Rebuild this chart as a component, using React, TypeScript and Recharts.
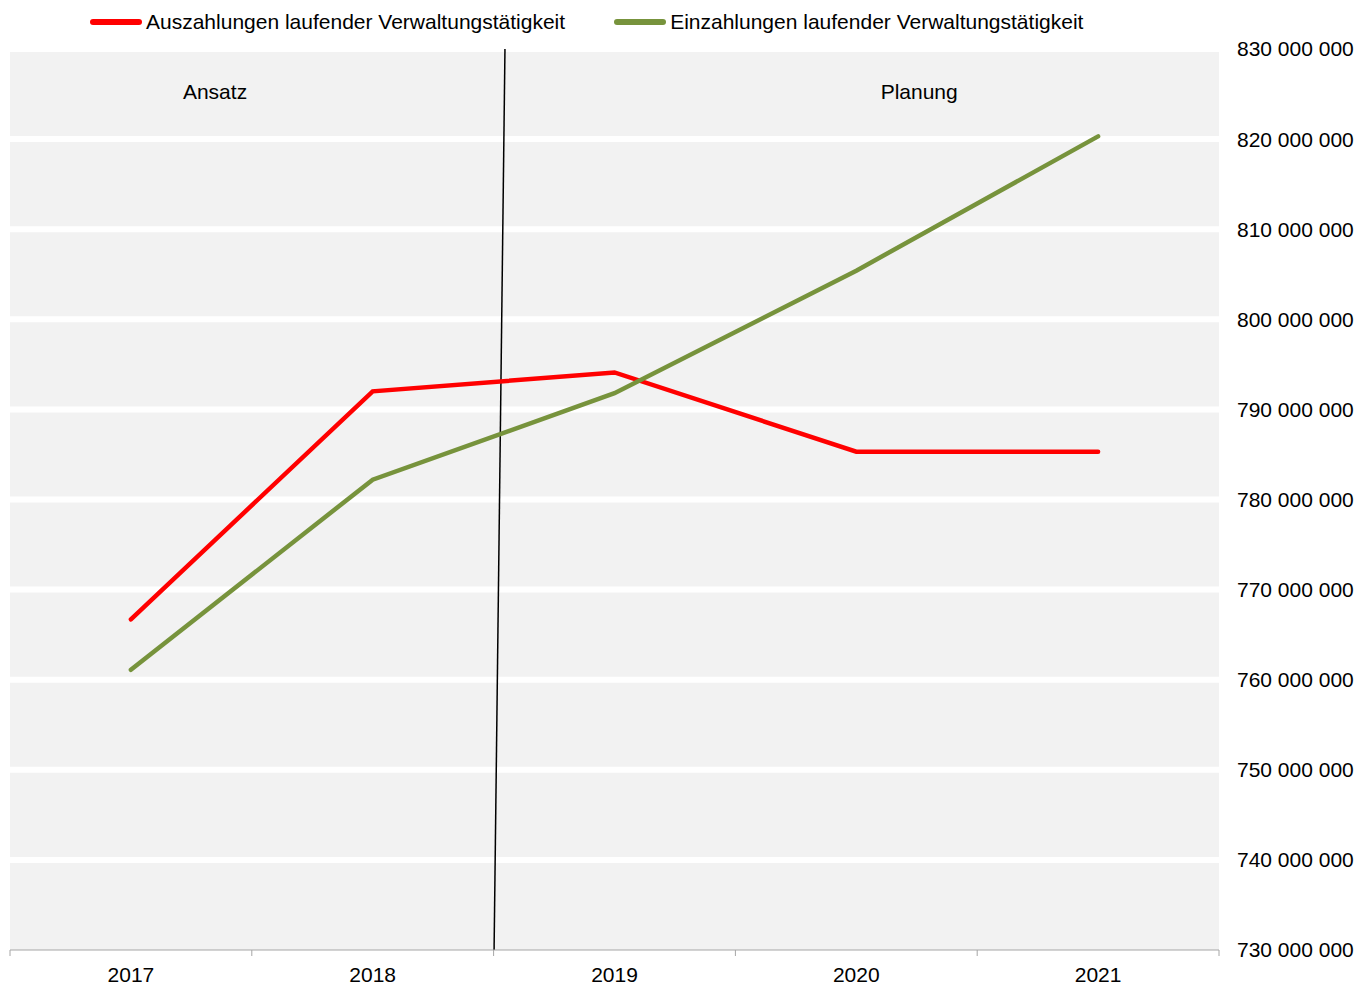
import React from 'react';
import { LineChart, Line, XAxis, YAxis, CartesianGrid, ReferenceLine, ReferenceDot, Legend } from 'recharts';

const years = ['2017', '2018', '2019', '2020', '2021'];
const auszahlungen = [766.7, 792.0, 794.1, 785.3, 785.3];
const einzahlungen = [761.1, 782.2, 791.8, 805.4, 820.3];
const yTicks = [730, 740, 750, 760, 770, 780, 790, 800, 810, 820, 830];
const gridValues = [740, 750, 760, 770, 780, 790, 800, 810, 820, 830];
const xTicks = [-0.5, 0, 0.5, 1, 1.5, 2, 2.5, 3, 3.5, 4, 4.5];

const seriesNames = ['Auszahlungen laufender Verwaltungstätigkeit', 'Einzahlungen laufender Verwaltungstätigkeit'];
const seriesColors = ['#ff0000', '#77933c'];

const FONT = "Arial, 'Liberation Sans', sans-serif";
const FS = 21;

const data = years.map((y, i) => ({
  x: i,
  aus: auszahlungen[i] * 1e6,
  ein: einzahlungen[i] * 1e6,
}));

const fmt = (v: number) => String(Math.round(v)).replace(/\B(?=(\d{3})+(?!\d))/g, ' ');

const XTick = (props: any) => {
  const { x, y, payload } = props;
  const v = payload.value;
  if (Number.isInteger(v)) {
    return (
      <text x={x} y={y + 32} textAnchor="middle" fontSize={FS} fill="#000" fontFamily={FONT}>
        {years[v]}
      </text>
    );
  }
  return <line x1={x} x2={x} y1={y} y2={y + 6} stroke="#a6a6a6" strokeWidth={1} />;
};

const LegendContent = () => (
  <div style={{ display: 'flex', alignItems: 'center', paddingLeft: 90, height: 30, fontFamily: FONT, fontSize: FS, color: '#000' }}>
    {seriesNames.map((n, i) => (
      <div key={n} style={{ display: 'flex', alignItems: 'center', marginRight: 49 }}>
        <div style={{ width: 52, height: 6, borderRadius: 3, background: seriesColors[i], marginRight: 4 }} />
        <span>{n}</span>
      </div>
    ))}
  </div>
);

export default function App() {
  return (
    <div>
      <style>{`body{margin:0}`}</style>
      <LineChart
        width={1357}
        height={986}
        data={data}
        margin={{ top: 19, right: 0, bottom: 0, left: 10 }}
        style={{ fontFamily: FONT }}
      >
        <Legend verticalAlign="top" align="left" content={<LegendContent />} wrapperStyle={{ top: 7, left: 0 }} height={30} />
        <CartesianGrid
          vertical={false}
          horizontalValues={gridValues.map((v) => v * 1e6)}
          stroke="#ffffff"
          strokeWidth={6}
          fill="#f2f2f2"
          fillOpacity={1}
        />
        <XAxis
          dataKey="x"
          type="number"
          domain={[-0.5, 4.5]}
          ticks={xTicks}
          interval={0}
          tick={<XTick />}
          tickLine={false}
          tickSize={0}
          tickMargin={0}
          axisLine={{ stroke: '#a6a6a6', strokeWidth: 1 }}
          height={36}
          allowDataOverflow
        />
        <YAxis
          orientation="right"
          domain={[730e6, 830e6]}
          ticks={yTicks.map((v) => v * 1e6)}
          tickFormatter={fmt}
          axisLine={false}
          tickLine={false}
          tickSize={0}
          tickMargin={18}
          width={138}
          interval={0}
          tick={{ fill: '#000', fontSize: FS }}
          allowDataOverflow
        />
        <ReferenceLine
          segment={[{ x: 1.547, y: 830e6 }, { x: 1.502, y: 730e6 }]}
          stroke="#000"
          strokeWidth={1.5}
        />
        <ReferenceDot x={0.348} y={825.3e6} r={0} fill="none" stroke="none"
          label={{ value: 'Ansatz', position: 'center', fill: '#000', fontSize: FS }} />
        <ReferenceDot x={3.26} y={825.3e6} r={0} fill="none" stroke="none"
          label={{ value: 'Planung', position: 'center', fill: '#000', fontSize: FS }} />
        <Line type="linear" dataKey="aus" name={seriesNames[0]} stroke={seriesColors[0]} strokeWidth={4.5} dot={false} isAnimationActive={false} strokeLinecap="round" />
        <Line type="linear" dataKey="ein" name={seriesNames[1]} stroke={seriesColors[1]} strokeWidth={4.5} dot={false} isAnimationActive={false} strokeLinecap="round" />
      </LineChart>
    </div>
  );
}
